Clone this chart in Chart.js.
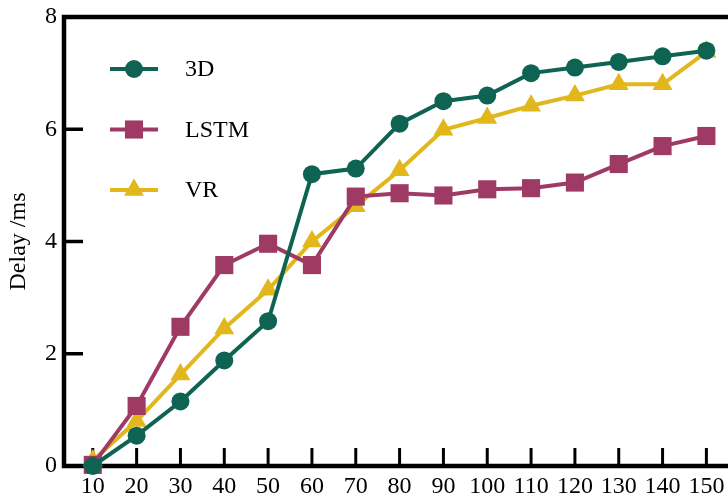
<!DOCTYPE html>
<html>
<head>
<meta charset="utf-8">
<script src="https://cdn.jsdelivr.net/npm/chart.js@4.4.0/dist/chart.umd.min.js"></script>
<style>
html,body{margin:0;padding:0;background:#fff;overflow:hidden;}
canvas{display:block;}
</style>
</head>
<body>
<canvas id="c" width="728" height="499"></canvas>
<script>
const categories = [10,20,30,40,50,60,70,80,90,100,110,120,130,140,150];
const series3D   = [0,0.54,1.15,1.88,2.58,5.2,5.3,6.1,6.5,6.6,7.0,7.1,7.2,7.3,7.4];
const seriesLSTM = [0.02,1.07,2.48,3.58,3.96,3.58,4.8,4.86,4.82,4.93,4.95,5.05,5.38,5.7,5.88];
const seriesVR   = [0.1,0.8,1.63,2.45,3.14,4.0,4.63,5.27,5.99,6.2,6.42,6.6,6.8,6.8,7.38];
const yTicks = [0,2,4,6,8];
const xMinorStep = 2.5;
const seriesNames = ['3D','LSTM','VR'];

const COLORS = ['#0e6352','#9f3a64','#e1b71c'];
const STYLES = ['circle','rect','triangle'];
const RADII = [9,12.8,11.5];
const FONT = '"Liberation Serif", "Times New Roman", Times, serif';

function mk(vals){ return categories.map((c,i)=>({x:c,y:vals[i]})); }
const allSeries = [series3D, seriesLSTM, seriesVR];

const datasets = allSeries.map((s,i)=>({
  label: seriesNames[i],
  data: mk(s),
  borderColor: COLORS[i],
  backgroundColor: COLORS[i],
  borderWidth: 4,
  pointStyle: STYLES[i],
  pointRadius: RADII[i],
  pointHoverRadius: RADII[i],
  pointBorderWidth: 0,
  pointBackgroundColor: COLORS[i],
  tension: 0,
  clip: false
}));

function noPad(scale){
  scale.paddingLeft = 0; scale.paddingRight = 0; scale.paddingTop = 0; scale.paddingBottom = 0;
}

const framePlugin = {
  id: 'frame',
  beforeDatasetsDraw(chart){
    const ctx = chart.ctx, a = chart.chartArea;
    const xs = chart.scales.x, ys = chart.scales.y;
    ctx.save();
    // minor x ticks
    ctx.strokeStyle = '#999';
    ctx.lineWidth = 1;
    for (let v = xs.min; v <= xs.max; v += 0.5) {
      const k = Math.round(v / xMinorStep * 1000) / 1000;
      if (Math.abs(k - Math.round(k)) > 1e-6) continue;
      const val = Math.round(k) * xMinorStep;
      if (val % 10 === 0 || val < xs.min || val > xs.max) continue;
      const x = Math.round(xs.getPixelForValue(val)) + 0.5;
      ctx.beginPath(); ctx.moveTo(x, a.bottom); ctx.lineTo(x, a.bottom - 4); ctx.stroke();
    }
    ctx.strokeStyle = '#000';
    ctx.lineWidth = 3.5;
    ctx.lineCap = 'butt';
    yTicks.forEach(v=>{
      const y = ys.getPixelForValue(v);
      ctx.beginPath(); ctx.moveTo(a.left, y); ctx.lineTo(a.left+18, y); ctx.stroke();
    });
    ctx.lineWidth = 3;
    categories.forEach(v=>{
      const x = xs.getPixelForValue(v);
      ctx.beginPath(); ctx.moveTo(x, a.bottom); ctx.lineTo(x, a.bottom-18); ctx.stroke();
    });
    ctx.lineWidth = 4.5;
    ctx.lineCap = 'square';
    ctx.beginPath();
    ctx.moveTo(a.right+5, a.top);
    ctx.lineTo(a.left-1, a.top);
    ctx.lineTo(a.left-1, a.bottom);
    ctx.lineTo(a.right+5, a.bottom);
    ctx.stroke();
    ctx.restore();
  },
  afterDatasetsDraw(chart){
    const ctx = chart.ctx;
    ctx.save();
    chart.data.datasets.forEach((ds,i)=>{
      const y = 69 + i*60.5;
      ctx.strokeStyle = ds.borderColor;
      ctx.lineWidth = 4;
      ctx.beginPath(); ctx.moveTo(110,y); ctx.lineTo(158,y); ctx.stroke();
      ctx.fillStyle = ds.backgroundColor;
      Chart.helpers.drawPoint(ctx, {pointStyle: ds.pointStyle, radius: ds.pointRadius, rotation:0, borderWidth:0}, 134, y);
      ctx.fillStyle = '#000';
      ctx.font = '24px ' + FONT;
      ctx.textBaseline = 'middle';
      ctx.textAlign = 'left';
      ctx.fillText(ds.label, 185, y+1);
    });
    ctx.restore();
  }
};

new Chart(document.getElementById('c'), {
  type: 'line',
  data: { datasets },
  plugins: [framePlugin],
  options: {
    responsive: false,
    animation: false,
    devicePixelRatio: 1,
    layout: { autoPadding: false, padding: { top: 17, right: 0, left: 0, bottom: 0 } },
    plugins: { legend: { display: false }, tooltip: { enabled: false } },
    scales: {
      x: {
        type: 'linear',
        min: 3.66, max: 154.93,
        afterBuildTicks(scale){ scale.ticks = categories.map(v=>({value:v})); },
        afterFit(scale){ scale.height = 33; noPad(scale); },
        grid: { display: false, drawTicks: false },
        border: { display: false },
        ticks: { color: '#000', font: { family: FONT, size: 24 }, padding: 6, maxRotation: 0, autoSkip: false,
                 callback: v => String(v) }
      },
      y: {
        type: 'linear',
        min: 0, max: 8,
        afterBuildTicks(scale){ scale.ticks = yTicks.map(v=>({value:v})); },
        afterFit(scale){ scale.width = 65; noPad(scale); },
        grid: { display: false, drawTicks: false },
        border: { display: false },
        ticks: { color: '#000', font: { family: FONT, size: 24 }, padding: 8, callback: v => String(v) },
        title: { display: true, text: 'Delay /ms', color: '#000', font: { family: FONT, size: 24 }, padding: { top: 4, bottom: 0 } }
      }
    }
  }
});
</script>
</body>
</html>
